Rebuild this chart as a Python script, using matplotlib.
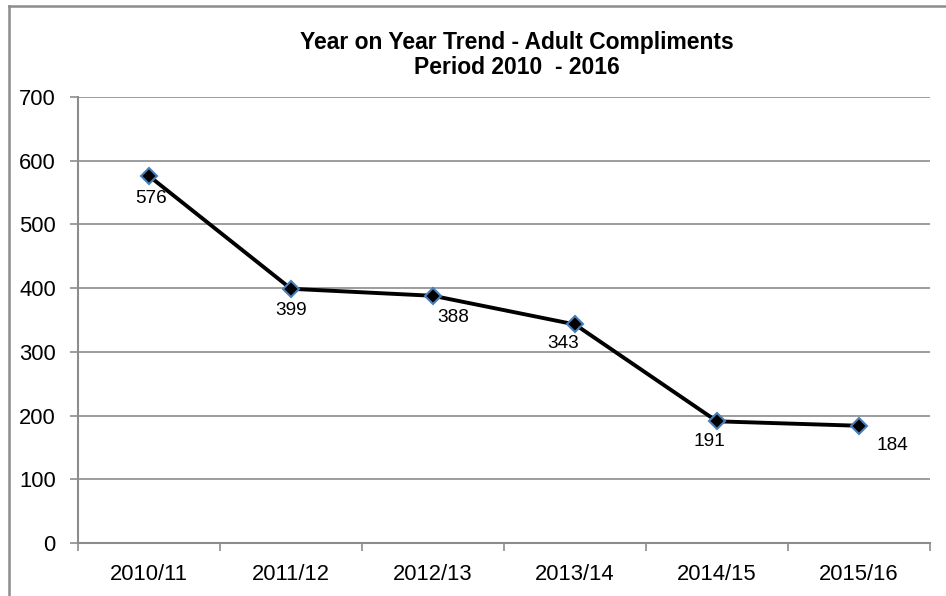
import matplotlib
matplotlib.use("Agg")
import matplotlib.pyplot as plt
from matplotlib.lines import Line2D

categories = ["2010/11", "2011/12", "2012/13", "2013/14", "2014/15", "2015/16"]
values = [576, 399, 388, 343, 191, 184]
yticks = [0, 100, 200, 300, 400, 500, 600, 700]
# label offsets in pixels (dx, dy)
label_offsets = [(2, -22), (0, -22), (20, -22), (-12, -19), (-8, -20), (33, -20)]

plt.rcParams['font.family'] = ['Liberation Sans', 'DejaVu Sans']

W, H = 946, 596
fig = plt.figure(figsize=(W / 100, H / 100), dpi=100)
ax = fig.add_axes([78 / W, 1 - 543 / H, (930 - 78) / W, (543 - 97) / H])

x = list(range(len(categories)))
grid_c = "#8c8c8c"
ax.plot(x, values, color="black", lw=2.8, zorder=3)
ax.plot(x, values, linestyle="none", marker="D", markersize=8.5,
        markerfacecolor="black", markeredgecolor="#4a7ebb", markeredgewidth=1.5, zorder=4)

for xi, v, (dx, dy) in zip(x, values, label_offsets):
    ax.annotate(str(v), (xi, v), xytext=(dx, dy), textcoords="offset pixels",
                ha="center", va="center", fontsize=13.7)

ax.set_xlim(-0.5, len(categories) - 0.5)
ax.set_ylim(0, 700)
ax.set_yticks(yticks)
ax.set_yticklabels([str(t) for t in yticks], fontsize=15.8)
ax.set_xticks(x)
ax.set_xticklabels(categories, fontsize=15.8)
ax.set_xticks([i - 0.5 for i in range(len(categories) + 1)], minor=True)
ax.tick_params(axis="x", which="major", length=0, pad=15)
ax.tick_params(axis="x", which="minor", length=6, color=grid_c, width=1.2, direction="out")
ax.tick_params(axis="y", length=6, color=grid_c, width=1.2, direction="out", pad=10)

for s in ["top", "right"]:
    ax.spines[s].set_visible(False)
for s in ["left", "bottom"]:
    ax.spines[s].set_color(grid_c)
    ax.spines[s].set_linewidth(1.5)

ax.yaxis.grid(True, color=grid_c, lw=1.2)
ax.set_axisbelow(True)

fig.text(517 / W, 1 - 43 / H, "Year on Year Trend - Adult Compliments",
         ha="center", va="center", fontsize=16.5, fontweight="bold")
fig.text(517 / W, 1 - 67 / H, "Period 2010  - 2016",
         ha="center", va="center", fontsize=16.5, fontweight="bold")

# outer chart border (left and top)
fig.add_artist(Line2D([8.5 / W, 8.5 / W], [0, 1 - 5.5 / H], transform=fig.transFigure,
                      color="#8c8c8c", lw=1.8))
fig.add_artist(Line2D([8.5 / W, 1], [1 - 5.5 / H, 1 - 5.5 / H], transform=fig.transFigure,
                      color="#8c8c8c", lw=1.8))

fig.savefig("out.png", dpi=100)
